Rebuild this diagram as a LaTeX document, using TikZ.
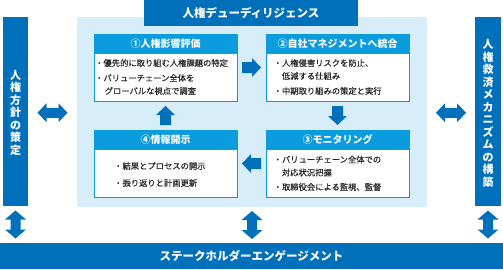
\documentclass[tikz,border=0pt]{standalone}
\usepackage{fontspec}
\setmainfont{Noto Sans CJK JP}
\newfontfamily\jpmed[FakeBold=0.35]{Noto Sans CJK JP}
\usetikzlibrary{calc}
\definecolor{dblue}{HTML}{0070BB}
\definecolor{hblue}{HTML}{0A9CDC}
\definecolor{bgblue}{HTML}{D8EDFA}
\definecolor{txt}{HTML}{262626}
\begin{document}
\begin{tikzpicture}[x=1pt,y=-1pt,
  bar/.style={fill=dblue, inner sep=0pt, text=white, font=\bfseries\fontsize{11.5}{14}\selectfont},
  vbar/.style={fill=dblue, inner sep=0pt, text=white, align=center, font=\bfseries\fontsize{11}{12.5}\selectfont},
  card/.style={draw=hblue, line width=1pt, fill=white, minimum width=143pt, minimum height=67pt, inner sep=0pt},
  cardhead/.style={draw=hblue, line width=1pt, fill=hblue, minimum width=143pt, minimum height=19pt, inner sep=0pt, text=white, font=\bfseries\fontsize{10}{12}\selectfont},
  item/.style={anchor=west, inner sep=0pt, align=left, text=txt, font=\jpmed\fontsize{8.3}{13}\selectfont},
  rarrow/.pic={\fill[dblue] (-9.5,-5.5) -- (0.5,-5.5) -- (0.5,-9.5) -- (9.5,0) -- (0.5,9.5) -- (0.5,5.5) -- (-9.5,5.5) -- cycle;},
  harrow/.pic={\fill[dblue] (-15,0) -- (-6,-9.5) -- (-6,-5) -- (6,-5) -- (6,-9.5) -- (15,0) -- (6,9.5) -- (6,5) -- (-6,5) -- (-6,9.5) -- cycle;},
  varrow/.pic={\fill[dblue] (0,-14) -- (10.5,-5) -- (5,-5) -- (5,5) -- (10.5,5) -- (0,14) -- (-10.5,5) -- (-5,5) -- (-5,-5) -- (-10.5,-5) -- cycle;}
]
\useasboundingbox (0,0) rectangle (503,269);
\fill[white] (0,0) rectangle (503,269);

% background panel
\node[fill=bgblue, minimum width=350pt, minimum height=190pt, inner sep=0pt] (bg) at (252,112) {};

% title
\node[bar, minimum width=214pt, minimum height=26pt] (title) at (251,13) {人権デューディリジェンス};

% side bars
\node[vbar, minimum width=25pt, minimum height=189pt] (lbar) at (15.5,111.5) {};
\node[vbar] (ltext) at (15.5,112.5) {人\\権\\方\\針\\の\\策\\定};
\node[vbar, minimum width=26pt, minimum height=189pt] (rbar) at (488,111.5) {};
\node[vbar] (rtext) at (488,113.5) {人\\権\\救\\済\\メ\\カ\\ニ\\ズ\\ム\\の\\構\\築};

% bottom bar
\node[bar, minimum width=503pt, minimum height=26pt] (bottom) at (251.5,256) {ステークホルダーエンゲージメント};

% cards
\node[card] (b1) at (165.5,67.5) {};
\node[cardhead] (h1) at (165.5,43.5) {①人権影響評価};
\node[item] (t11) at (95,63) {・優先的に取り組む人権課題の特定};
\node[item] (t12) at (95,84.5) {・バリューチェーン全体を\\\hspace*{1.15em}グローバルな視点で調査};

\node[card] (b2) at (337.5,67.5) {};
\node[cardhead] (h2) at (337.5,43.5) {②自社マネジメントへ統合};
\node[item] (t21) at (273.5,69.5) {・人権侵害リスクを防止、\\\hspace*{1em}低減する仕組み};
\node[item] (t22) at (273.5,91) {・中期取り組みの策定と実行};

\node[card] (b3) at (337.5,163.5) {};
\node[cardhead] (h3) at (337.5,139.5) {③モニタリング};
\node[item] (t31) at (273.5,166) {・バリューチェーン全体での\\\hspace*{1em}対応状況把握};
\node[item] (t32) at (273.5,187) {・取締役会による監視、監督};

\node[card] (b4) at (165.5,163.5) {};
\node[cardhead] (h4) at (165.5,139.5) {④情報開示};
\node[item] (t41) at (114,166) {・結果とプロセスの開示};
\node[item] (t42) at (114,183) {・振り返りと計画更新};

% cycle arrows
\pic at ($(b1.east)!0.5!(b2.west)$) {rarrow};
\pic[rotate=-90] at ($(b2.south)!0.5!(b3.north)$) {rarrow};
\pic[rotate=180] at ($(b3.west)!0.5!(b4.east)$) {rarrow};
\pic[rotate=90] at ($(b4.north)!0.5!(b1.south)$) {rarrow};

% double arrows
\pic at ($(lbar.east)!0.5!(bg.west)+(0,1)$) {harrow};
\pic at ($(bg.east)!0.5!(rbar.west)+(0,1)$) {harrow};
\pic at ($(lbar.south)!0.5!(lbar.south|-bottom.north)$) {varrow};
\pic at ($(bg.south)!0.5!(bg.south|-bottom.north)$) {varrow};
\pic at ($(rbar.south)!0.5!(rbar.south|-bottom.north)$) {varrow};
\end{tikzpicture}
\end{document}
